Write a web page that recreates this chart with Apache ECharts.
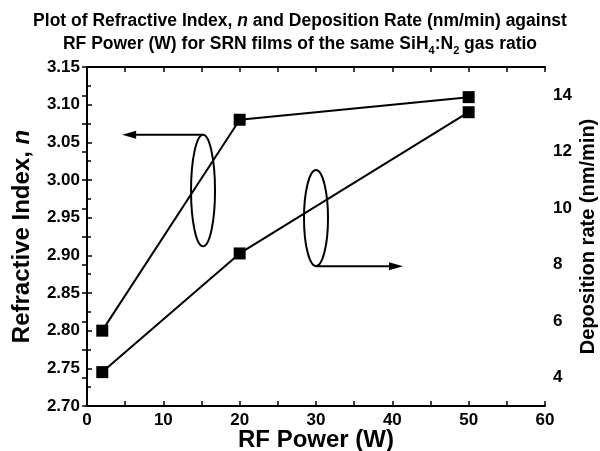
<!DOCTYPE html>
<html><head><meta charset="utf-8">
<script src="https://cdn.jsdelivr.net/npm/echarts@6/dist/echarts.min.js"></script>
<style>html,body{margin:0;padding:0;background:#fff}#c{width:600px;height:451px}</style>
</head><body><div id="c"></div>
<script>
// ---- data ----
const rfPower = [2, 20, 50];
const refractiveIndex = [2.80, 3.08, 3.11];
const depositionRate = [4.2, 8.4, 13.4];
const xRange = [0, 60];
const leftRange = [2.70, 3.15];
const rightRange = [3, 15];
// annotation anchors (data coordinates)
const ellipseLeft = { x: 15.2, top: 3.06, bottom: 2.912 };   // left axis
const arrowLeftEnd = 4.6;
const ellipseRight = { x: 30, top: 11.35, bottom: 7.95 };     // right axis
const arrowRightEnd = 41.4;

const FONT = "'Liberation Sans', Arial, sans-serif";
const chart = echarts.init(document.getElementById('c'), null, { renderer: 'canvas' });

const tickCommon = { inside: true, length: 5, lineStyle: { color: '#000', width: 1.5 } };
const lineCommon = { show: true, lineStyle: { color: '#000', width: 2 } };
const labelCommon = { color: '#000', fontFamily: FONT, fontWeight: 'bold', fontSize: 17 };
const nameStyle = { fontFamily: FONT, fontWeight: 'bold', fontSize: 24, color: '#000' };
const TS = 17.5;

chart.setOption({
  animation: false,
  backgroundColor: '#fff',
  title: {
    left: 'center', top: 5,
    text: 'Plot of Refractive Index, {i|n} and Deposition Rate (nm/min) against\nRF Power (W) for SRN films of the same SiH{s|4}:N{s|2} gas ratio',
    textStyle: {
      fontFamily: FONT, fontWeight: 'bold', fontSize: TS, color: '#000', lineHeight: 23, align: 'center',
      rich: {
        i: { fontFamily: FONT, fontWeight: 'bold', fontStyle: 'italic', fontSize: TS, color: '#000', lineHeight: 23 },
        s: { fontFamily: FONT, fontWeight: 'bold', fontSize: 11, color: '#000', lineHeight: 12, verticalAlign: 'bottom' }
      }
    }
  },
  grid: { left: 87, right: 55, top: 67, bottom: 45, containLabel: false, outerBoundsMode: 'none' },
  xAxis: [{
    type: 'value', min: xRange[0], max: xRange[1], interval: 5, position: 'bottom',
    axisLine: lineCommon, axisTick: tickCommon, splitLine: { show: false },
    axisLabel: Object.assign({}, labelCommon, { margin: 6, formatter: v => (v % 10 === 0 ? String(v) : '') }),
    name: 'RF Power (W)', nameLocation: 'middle', nameGap: 22, nameMoveOverlap: false,
    nameTextStyle: nameStyle
  }, {
    type: 'value', min: xRange[0], max: xRange[1], interval: 5, position: 'top',
    axisLine: lineCommon, axisTick: tickCommon, splitLine: { show: false },
    axisLabel: { show: false }
  }],
  yAxis: [{
    type: 'value', min: leftRange[0], max: leftRange[1], interval: 0.05, position: 'left',
    axisLine: lineCommon, axisTick: tickCommon, splitLine: { show: false },
    minorTick: { show: true, splitNumber: 2, length: 4, lineStyle: { color: '#000', width: 1.5 } },
    axisLabel: Object.assign({}, labelCommon, { margin: 7, formatter: v => v.toFixed(2) }),
    name: 'Refractive Index, {i|n}', nameLocation: 'middle', nameGap: 53, nameRotate: 90, nameMoveOverlap: false,
    nameTextStyle: Object.assign({}, nameStyle, {
      rich: { i: Object.assign({}, nameStyle, { fontStyle: 'italic' }) } })
  }, {
    type: 'value', min: rightRange[0], max: rightRange[1], interval: 1, position: 'right',
    axisLine: lineCommon, axisTick: tickCommon, splitLine: { show: false },
    axisLabel: Object.assign({}, labelCommon, { margin: 8, formatter: v => (v % 2 === 0 ? String(v) : '') }),
    name: 'Deposition rate (nm/min)', nameLocation: 'middle', nameGap: 33, nameRotate: 90, nameMoveOverlap: false,
    nameTextStyle: Object.assign({}, nameStyle, { fontSize: 20 })
  }],
  series: [{
    name: 'Refractive Index', type: 'line', xAxisIndex: 0, yAxisIndex: 0,
    data: rfPower.map((x, i) => [x, refractiveIndex[i]]),
    symbol: 'rect', symbolSize: 12, showSymbol: true,
    itemStyle: { color: '#000' }, lineStyle: { color: '#000', width: 2 }, z: 5
  }, {
    name: 'Deposition rate', type: 'line', xAxisIndex: 0, yAxisIndex: 1,
    data: rfPower.map((x, i) => [x, depositionRate[i]]),
    symbol: 'rect', symbolSize: 12, showSymbol: true,
    itemStyle: { color: '#000' }, lineStyle: { color: '#000', width: 2 }, z: 5
  }]
});

function px(x, y, yIdx) {
  return chart.convertToPixel({ xAxisIndex: 0, yAxisIndex: yIdx }, [x, y]);
}
function arrowHead(tip, dir) {
  const L = 14, H = 4;
  return [[tip[0], tip[1]], [tip[0] - dir * L, tip[1] - H], [tip[0] - dir * L, tip[1] + H]];
}
const stroke = { stroke: '#000', lineWidth: 2, fill: null };
const lt = px(ellipseLeft.x, ellipseLeft.top, 0), lb = px(ellipseLeft.x, ellipseLeft.bottom, 0);
const la = px(arrowLeftEnd, ellipseLeft.top, 0);
const rt = px(ellipseRight.x, ellipseRight.top, 1), rb = px(ellipseRight.x, ellipseRight.bottom, 1);
const ra = px(arrowRightEnd, ellipseRight.bottom, 1);
chart.setOption({
  graphic: [
    { type: 'ellipse', shape: { cx: lt[0], cy: (lt[1] + lb[1]) / 2, rx: 12, ry: (lb[1] - lt[1]) / 2 }, style: stroke, z: 10 },
    { type: 'line', shape: { x1: lt[0], y1: lt[1], x2: la[0] + 10, y2: la[1] }, style: stroke, z: 10 },
    { type: 'polygon', shape: { points: arrowHead(la, -1) }, style: { fill: '#000' }, z: 10 },
    { type: 'ellipse', shape: { cx: rt[0], cy: (rt[1] + rb[1]) / 2, rx: 12, ry: (rb[1] - rt[1]) / 2 }, style: stroke, z: 10 },
    { type: 'line', shape: { x1: rb[0], y1: rb[1], x2: ra[0] - 10, y2: ra[1] }, style: stroke, z: 10 },
    { type: 'polygon', shape: { points: arrowHead(ra, 1) }, style: { fill: '#000' }, z: 10 }
  ]
});
</script>
</body></html>
